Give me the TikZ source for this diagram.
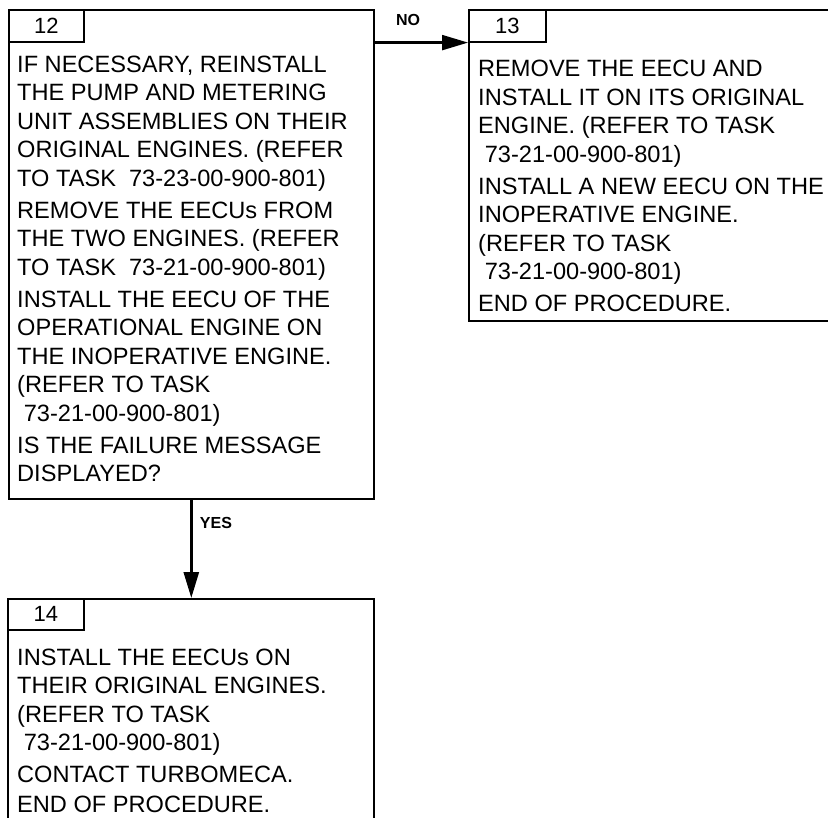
\documentclass[tikz,border=0pt]{standalone}
\usepackage{fontspec}
\setmainfont{Liberation Sans}
\usetikzlibrary{arrows.meta}

\tikzset{
  stepbox/.style={draw, line width=1.6pt, rectangle, inner sep=0pt, anchor=north west},
  numtab/.style={stepbox, minimum width=75pt, minimum height=32pt, font=\fontsize{22}{22}\selectfont},
  steptext/.style={anchor=base west, inner sep=0pt, font=\fontsize{23.6}{28.5}\selectfont},
  flow/.style={line width=2.2pt, -{Triangle[length=26pt,width=15pt]}},
  answer/.style={inner sep=0pt, font=\fontsize{16}{16}\selectfont\bfseries}
}

\begin{document}
\begin{tikzpicture}[x=1pt,y=-1pt]
\useasboundingbox (0,0) rectangle (828,818);
\clip (0,0) rectangle (828,818);

\node[stepbox, minimum width=365pt, minimum height=489pt] (box12) at (8,9) {};
\node[numtab] (tab12) at (box12.north west) {12};
\node[steptext] (txt12) at (17,72.5) {\parbox[t]{350pt}{%
IF NECESSARY, REINSTALL\\
THE PUMP AND METERING\\
UNIT ASSEMBLIES ON THEIR\\
ORIGINAL ENGINES. (REFER\\
TO TASK\ \ 73-23-00-900-801)\\[3.5pt]
REMOVE THE EECUs FROM\\
THE TWO ENGINES. (REFER\\
TO TASK\ \ 73-21-00-900-801)\\[3.5pt]
INSTALL THE EECU OF THE\\
OPERATIONAL ENGINE ON\\
THE INOPERATIVE ENGINE.\\
(REFER TO TASK\\
\hspace*{.28em}73-21-00-900-801)\\[3.5pt]
IS THE FAILURE MESSAGE\\
DISPLAYED?}};

\node[stepbox, minimum width=380pt, minimum height=311pt] (box13) at (468,9) {};
\node[numtab, minimum width=77pt] (tab13) at (box13.north west) {13};
\node[steptext] (txt13) at (478,77) {\parbox[t]{350pt}{%
REMOVE THE EECU AND\\
INSTALL IT ON ITS ORIGINAL\\
ENGINE. (REFER TO TASK\\
\hspace*{.28em}73-21-00-900-801)\\[3.5pt]
INSTALL A NEW EECU ON THE\\
INOPERATIVE ENGINE.\\
(REFER TO TASK\\
\hspace*{.28em}73-21-00-900-801)\\[3.5pt]
END OF PROCEDURE.}};

\node[stepbox, minimum width=366pt, minimum height=260pt] (box14) at (7,598) {};
\node[numtab, minimum width=76pt, minimum height=31pt] (tab14) at (box14.north west) {14};
\node[steptext] (txt14) at (17,665) {\parbox[t]{350pt}{%
INSTALL THE EECUs ON\\
THEIR ORIGINAL ENGINES.\\
(REFER TO TASK\\
\hspace*{.28em}73-21-00-900-801)\\[3.5pt]
CONTACT TURBOMECA.\\[1pt]
END OF PROCEDURE.}};

\draw[flow] (tab13.south west -| box12.east) -- (tab13.south west);
\node[answer] (no) at (408,20) {NO};
\draw[flow, line width=2.8pt] (box12.south) -- (box12.south |- box14.north);
\node[answer] (yes) at (216,523) {YES};
\end{tikzpicture}
\end{document}
